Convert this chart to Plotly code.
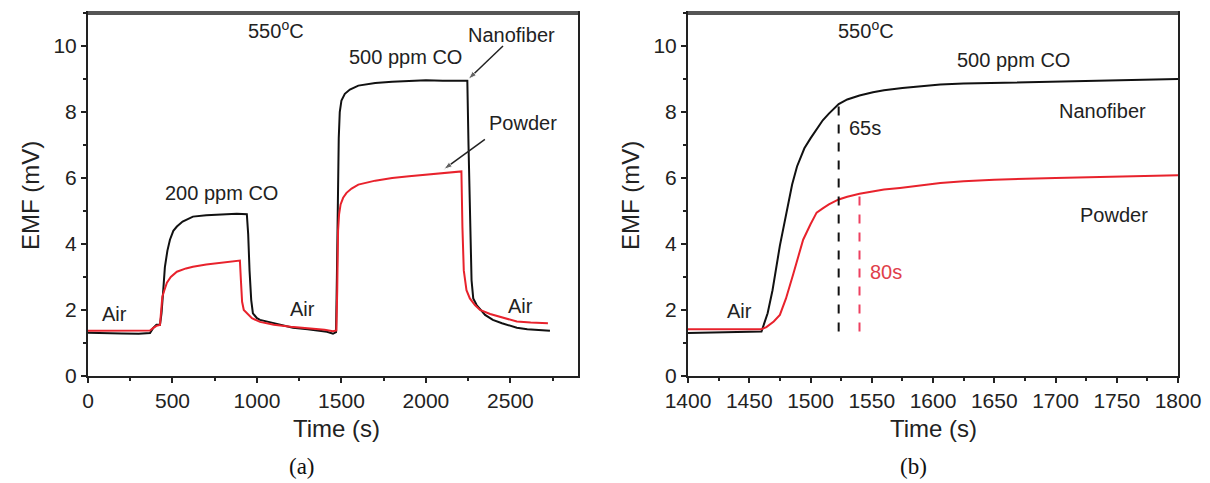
import plotly.graph_objects as go

# ---------------- Data ----------------
# Panel (a): full transient, 0-2750 s
t_nf_a = [0, 100, 200, 300, 367, 385, 405, 426, 435, 444, 455, 470, 485, 505, 526, 560, 621, 700,
          800, 880, 940, 948, 956, 966, 976, 1000, 1018, 1100, 1213, 1300, 1414, 1450, 1468,
          1473, 1478, 1484, 1490, 1500, 1520, 1550, 1600, 1700, 1800, 1900, 2000, 2100, 2200,
          2245, 2252, 2260, 2270, 2280, 2300, 2350, 2396, 2450, 2538, 2600, 2680, 2734]
emf_nf_a = [1.31, 1.29, 1.29, 1.28, 1.30, 1.45, 1.55, 1.55, 1.9, 2.5, 3.3, 3.8, 4.13, 4.40, 4.53, 4.68,
            4.83, 4.87, 4.90, 4.92, 4.90, 4.3, 3.2, 2.3, 1.9, 1.75, 1.70, 1.60, 1.46, 1.42, 1.34, 1.28,
            1.33, 3.0, 5.5, 7.2, 8.0, 8.35, 8.55, 8.68, 8.80, 8.88, 8.92, 8.95, 8.96, 8.95, 8.95,
            8.95, 7.0, 4.6, 2.9, 2.35, 2.15, 1.85, 1.70, 1.60, 1.46, 1.42, 1.38, 1.37]

t_pw_a = [0, 100, 200, 300, 367, 385, 405, 426, 432, 440, 452, 467, 490, 526, 580, 621, 700, 800,
          880, 899, 905, 912, 922, 940, 970, 1018, 1100, 1200, 1300, 1400, 1450, 1470, 1475,
          1480, 1486, 1495, 1510, 1530, 1560, 1600, 1700, 1800, 1900, 2000, 2100, 2200, 2210,
          2216, 2224, 2240, 2260, 2290, 2320, 2380, 2450, 2538, 2620, 2722]
emf_pw_a = [1.37, 1.37, 1.37, 1.37, 1.38, 1.45, 1.52, 1.55, 1.9, 2.4, 2.6, 2.83, 3.0, 3.16, 3.26,
            3.31, 3.38, 3.43, 3.47, 3.50, 2.9, 2.25, 2.0, 1.9, 1.75, 1.64, 1.55, 1.49, 1.45, 1.40,
            1.36, 1.38, 2.6, 4.4, 4.9, 5.2, 5.4, 5.55, 5.68, 5.80, 5.92, 6.00, 6.05, 6.10, 6.14,
            6.20, 6.20, 4.5, 3.2, 2.6, 2.35, 2.15, 2.0, 1.88, 1.78, 1.65, 1.62, 1.60]

# Panel (b): zoom on the 500 ppm CO response, 1400-1800 s
t_nf_b = [1400, 1420, 1440, 1455, 1460, 1465, 1469, 1475, 1480, 1485, 1489, 1495, 1500, 1505,
          1510, 1515, 1523, 1530, 1540, 1551, 1560, 1575, 1606, 1625, 1650, 1700, 1750, 1800]
emf_nf_b = [1.30, 1.31, 1.32, 1.33, 1.35, 1.9, 2.6, 3.95, 4.9, 5.8, 6.35, 6.9, 7.2, 7.48, 7.75,
            7.95, 8.24, 8.38, 8.5, 8.6, 8.66, 8.73, 8.83, 8.86, 8.88, 8.92, 8.95, 9.0]

t_pw_b = [1400, 1420, 1440, 1460, 1464, 1470, 1475, 1480, 1486, 1490, 1494, 1500, 1505, 1510,
          1515, 1523, 1530, 1540, 1550, 1560, 1573, 1606, 1625, 1650, 1700, 1750, 1800]
emf_pw_b = [1.42, 1.42, 1.42, 1.42, 1.48, 1.65, 1.85, 2.35, 3.1, 3.6, 4.13, 4.6, 4.95, 5.08, 5.2,
            5.35, 5.43, 5.52, 5.59, 5.65, 5.70, 5.85, 5.9, 5.95, 6.0, 6.05, 6.08]

# response-time markers (panel b)
t90_nanofiber = [1523, 1523]
t90_nanofiber_emf = [1.35, 8.24]
t90_powder = [1540, 1540]
t90_powder_emf = [1.35, 5.52]

# label pointer arrows (panel a): from label to curve
arrow_nf_t = [2456, 2250]
arrow_nf_emf = [10.0, 8.99]
arrow_pw_t = [2349, 2105]
arrow_pw_emf = [7.17, 6.26]

x_ticks_a = [0, 500, 1000, 1500, 2000, 2500]
x_ticks_b = [1400, 1450, 1500, 1550, 1600, 1650, 1700, 1750, 1800]
y_ticks = [0, 2, 4, 6, 8, 10]

BLACK = "#111111"
RED = "#e8222c"
FONT = "Liberation Sans, Arial, sans-serif"
W, H = 1210, 483

fig = go.Figure()
fig.add_trace(go.Scatter(x=t_nf_a, y=emf_nf_a, mode="lines", line=dict(color=BLACK, width=2),
                         xaxis="x", yaxis="y", showlegend=False))
fig.add_trace(go.Scatter(x=t_pw_a, y=emf_pw_a, mode="lines", line=dict(color=RED, width=2),
                         xaxis="x", yaxis="y", showlegend=False))
fig.add_trace(go.Scatter(x=t_nf_b, y=emf_nf_b, mode="lines", line=dict(color=BLACK, width=2),
                         xaxis="x2", yaxis="y2", showlegend=False))
fig.add_trace(go.Scatter(x=t_pw_b, y=emf_pw_b, mode="lines", line=dict(color=RED, width=2),
                         xaxis="x2", yaxis="y2", showlegend=False))
fig.add_trace(go.Scatter(x=t90_nanofiber, y=t90_nanofiber_emf, mode="lines",
                         line=dict(color=BLACK, width=2, dash="dash"),
                         xaxis="x2", yaxis="y2", showlegend=False))
fig.add_trace(go.Scatter(x=t90_powder, y=t90_powder_emf, mode="lines",
                         line=dict(color="#ee4060", width=2, dash="dash"),
                         xaxis="x2", yaxis="y2", showlegend=False))
for ax_t, ax_e in ((arrow_nf_t, arrow_nf_emf), (arrow_pw_t, arrow_pw_emf)):
    fig.add_trace(go.Scatter(x=ax_t, y=ax_e, mode="lines+markers",
                             line=dict(color="#222", width=1.5),
                             marker=dict(symbol=["circle", "arrow"], size=[0, 9], angleref="previous",
                                         color="#222"),
                             xaxis="x", yaxis="y", showlegend=False, hoverinfo="skip"))

def px_x(p):
    return p / W

def px_y(p):
    return 1 - p / H

dom_a = [px_x(88), px_x(578)]
dom_b = [px_x(688), px_x(1178)]
dom_y = [px_y(376), px_y(13)]

axis_common = dict(showline=True, linecolor="#222", linewidth=2, mirror=True, ticks="outside",
                   ticklen=5, tickwidth=1.5, tickcolor="#222", showgrid=False, zeroline=False,
                   tickfont=dict(family=FONT, size=21, color="#222"), automargin=False)

fig.update_layout(
    width=W, height=H, margin=dict(l=0, r=0, t=0, b=0),
    paper_bgcolor="white", plot_bgcolor="white", template="none",
    xaxis=dict(domain=dom_a, range=[0, 2900], tickvals=x_ticks_a, anchor="y",
               minor=dict(dtick=250, ticks="outside", ticklen=3, tickcolor="#222"), **axis_common),
    yaxis=dict(domain=dom_y, range=[0, 11], tickvals=y_ticks, anchor="x",
               minor=dict(dtick=1, ticks="outside", ticklen=3, tickcolor="#222"), **axis_common),
    xaxis2=dict(domain=dom_b, range=[1400, 1800], tickvals=x_ticks_b, anchor="y2",
                minor=dict(dtick=25, ticks="outside", ticklen=3, tickcolor="#222"), **axis_common),
    yaxis2=dict(domain=dom_y, range=[0, 11], tickvals=y_ticks, anchor="x2",
                minor=dict(dtick=1, ticks="outside", ticklen=3, tickcolor="#222"), **axis_common),
)

# thicker grey top frame as in the reference
for xr, yr in (("x domain", "y domain"), ("x2 domain", "y2 domain")):
    fig.add_shape(type="line", xref=xr, yref=yr, x0=0, x1=1, y0=1, y1=1,
                  line=dict(color="#555", width=4))

ann = []
def txt(text, x, y, xref, yref, size=20, color="#222", family=FONT, angle=0):
    ann.append(dict(text=text, x=x, y=y, xref=xref, yref=yref, showarrow=False,
                    font=dict(family=family, size=size, color=color), textangle=angle,
                    xanchor="center", yanchor="middle"))

# axis titles and panel labels
txt("EMF (mV)", px_x(30), px_y(196), "paper", "paper", size=24, angle=-90)
txt("EMF (mV)", px_x(630), px_y(196), "paper", "paper", size=24, angle=-90)
txt("Time (s)", px_x(336), px_y(428), "paper", "paper", size=24)
txt("Time (s)", px_x(933), px_y(428), "paper", "paper", size=24)
txt("(a)", px_x(302), px_y(466), "paper", "paper", size=23, family="Liberation Serif, Times New Roman, serif", color="#111")
txt("(b)", px_x(914), px_y(466), "paper", "paper", size=23, family="Liberation Serif, Times New Roman, serif", color="#111")

# panel (a) labels
txt("550<sup>o</sup>C", 1112, 10.5, "x", "y")
txt("500 ppm CO", 1882, 9.67, "x", "y")
txt("Nanofiber", 2509, 10.33, "x", "y")
txt("Powder", 2574, 7.66, "x", "y")
txt("200 ppm CO", 793, 5.56, "x", "y")
txt("Air", 154, 1.88, "x", "y")
txt("Air", 1272, 2.04, "x", "y")
txt("Air", 2562, 2.13, "x", "y")

# panel (b) labels
txt("550<sup>o</sup>C", 1545, 10.5, "x2", "y2")
txt("500 ppm CO", 1666, 9.57, "x2", "y2")
txt("Nanofiber", 1738, 8.02, "x2", "y2")
txt("Powder", 1748, 4.89, "x2", "y2")
txt("65s", 1544.5, 7.51, "x2", "y2")
txt("80s", 1562, 3.16, "x2", "y2", color="#e0404a")
txt("Air", 1442, 1.98, "x2", "y2")

fig.update_layout(annotations=ann)
fig.write_html("out.html", config={"displayModeBar": False},
               post_script="document.body.style.margin='0px';document.body.style.overflow='hidden';")
